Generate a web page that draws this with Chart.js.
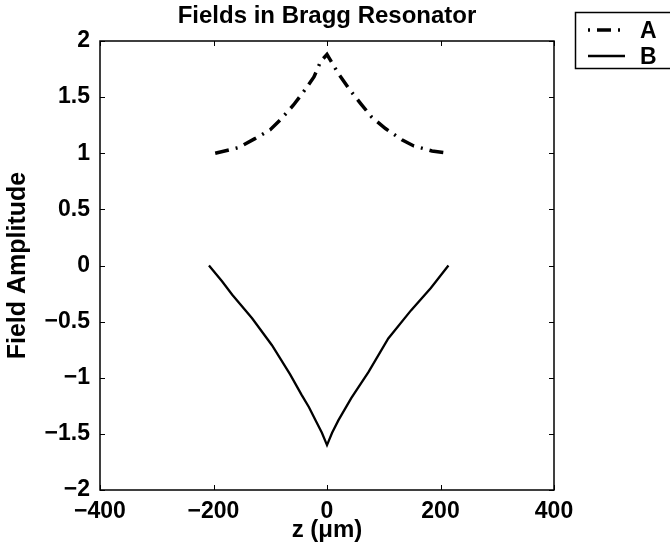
<!DOCTYPE html>
<html>
<head>
<meta charset="utf-8">
<script src="https://cdn.jsdelivr.net/npm/chart.js@4.4.1/dist/chart.umd.min.js"></script>
<style>
  html, body { margin: 0; padding: 0; background: #fff; }
  #wrap { width: 670px; height: 558px; }
</style>
</head>
<body>
<div id="wrap"><canvas id="braggChart" width="670" height="558"></canvas></div>
<script>
// field profiles along the resonator
const zA = [-197, -156, -127, -100, -80, -59, -41, -23, -11, 0, 6, 20, 41, 59, 79, 103, 132, 153, 185, 215];
const fieldA = [1.00, 1.05, 1.13, 1.21, 1.31, 1.43, 1.55, 1.68, 1.82, 1.88, 1.83, 1.71, 1.56, 1.445, 1.32, 1.22, 1.12, 1.065, 1.02, 1.00];
const zB = [-208, -185, -167, -132, -97, -65, -45, -32, -20, -9, 0, 9, 20, 43, 73, 108, 148, 183, 214];
const fieldB = [0, -0.14, -0.26, -0.47, -0.71, -0.97, -1.15, -1.26, -1.38, -1.49, -1.60, -1.49, -1.38, -1.18, -0.95, -0.65, -0.40, -0.20, 0];

const xTicks = [-400, -200, 0, 200, 400];
const yTicks = [-2, -1.5, -1, -0.5, 0, 0.5, 1, 1.5, 2];

const FONT = '"Liberation Sans", Arial, Helvetica, sans-serif';
const dashA = [14, 7, 2, 7];

const toPoints = (xs, ys) => xs.map((v, i) => ({ x: v, y: ys[i] }));
const minus = v => String(v).replace('-', '\u2212');

// box round the axes, inward ticks on all sides, legend outside at top right
const framePlugin = {
    id: 'frame',
    afterDraw(chart) {
        const { ctx, chartArea: a, scales: { x, y } } = chart;
        ctx.save();
        ctx.strokeStyle = '#000';
        ctx.lineWidth = 1.5;
        ctx.strokeRect(a.left, a.top, a.right - a.left, a.bottom - a.top);

        ctx.beginPath();
        x.ticks.forEach(t => {
            const px = Math.round(x.getPixelForValue(t.value)) + 0.5;
            ctx.moveTo(px, a.bottom); ctx.lineTo(px, a.bottom - 5);
            ctx.moveTo(px, a.top); ctx.lineTo(px, a.top + 5);
        });
        y.ticks.forEach(t => {
            const py = Math.round(y.getPixelForValue(t.value)) + 0.5;
            ctx.moveTo(a.left, py); ctx.lineTo(a.left + 5, py);
            ctx.moveTo(a.right, py); ctx.lineTo(a.right - 5, py);
        });
        ctx.lineWidth = 1;
        ctx.stroke();

        // legend
        const lx = 575.5, ly = 12.5;
        ctx.lineWidth = 1.5;
        ctx.strokeRect(lx, ly, 130, 56);
        ctx.font = 'bold 23px ' + FONT;
        ctx.fillStyle = '#000';
        ctx.textBaseline = 'alphabetic';
        chart.data.datasets.forEach((ds, i) => {
            const rowY = 30 + i * 26;
            ctx.beginPath();
            ctx.lineWidth = ds.borderWidth;
            ctx.setLineDash(ds.borderDash || []);
            ctx.lineDashOffset = ds.borderDash ? 21 : 0;
            ctx.moveTo(588, rowY);
            ctx.lineTo(625, rowY);
            ctx.stroke();
            ctx.setLineDash([]);
            ctx.fillText(ds.label, 640, rowY + 8);
        });
        ctx.restore();
    }
};

new Chart(document.getElementById('braggChart').getContext('2d'), {
    type: 'scatter',
    data: {
        datasets: [{
            label: 'A',
            data: toPoints(zA, fieldA),
            showLine: true,
            borderColor: '#000',
            borderWidth: 3.5,
            borderDash: dashA,
            pointRadius: 0,
            tension: 0
        }, {
            label: 'B',
            data: toPoints(zB, fieldB),
            showLine: true,
            borderColor: '#000',
            borderWidth: 2.3,
            pointRadius: 0,
            tension: 0
        }]
    },
    options: {
        responsive: false,
        animation: false,
        layout: { padding: { right: 116, top: 0, bottom: 0, left: 0 } },
        plugins: {
            legend: { display: false },
            tooltip: { enabled: false },
            title: {
                display: true,
                text: 'Fields in Bragg Resonator',
                fullSize: false,
                color: '#000',
                font: { family: FONT, size: 24, weight: 'bold' },
                padding: { top: 2, bottom: 10.2 }
            }
        },
        scales: {
            x: {
                type: 'linear',
                min: -400,
                max: 400,
                afterBuildTicks: s => { s.ticks = xTicks.map(v => ({ value: v })); },
                afterFit: s => { s.height = 68; },
                grid: { display: false, drawTicks: false },
                border: { display: false },
                ticks: {
                    autoSkip: false,
                    maxRotation: 0,
                    padding: 8,
                    color: '#000',
                    font: { family: FONT, size: 23, weight: 'bold' },
                    callback: minus
                },
                title: {
                    display: true,
                    text: 'z (\u03bcm)',
                    color: '#000',
                    font: { family: FONT, size: 24, weight: 'bold' },
                    padding: { top: 0, bottom: 13 }
                }
            },
            y: {
                type: 'linear',
                min: -2,
                max: 2,
                afterBuildTicks: s => { s.ticks = yTicks.map(v => ({ value: v })); },
                afterFit: s => { s.width = 100; },
                grid: { display: false, drawTicks: false },
                border: { display: false },
                ticks: {
                    autoSkip: false,
                    padding: 10,
                    color: '#000',
                    font: { family: FONT, size: 23, weight: 'bold' },
                    callback: minus
                },
                title: {
                    display: true,
                    text: 'Field Amplitude',
                    color: '#000',
                    font: { family: FONT, size: 25, weight: 'bold' },
                    padding: { top: 3, bottom: 0 }
                }
            }
        }
    },
    plugins: [framePlugin]
});
</script>
</body>
</html>
